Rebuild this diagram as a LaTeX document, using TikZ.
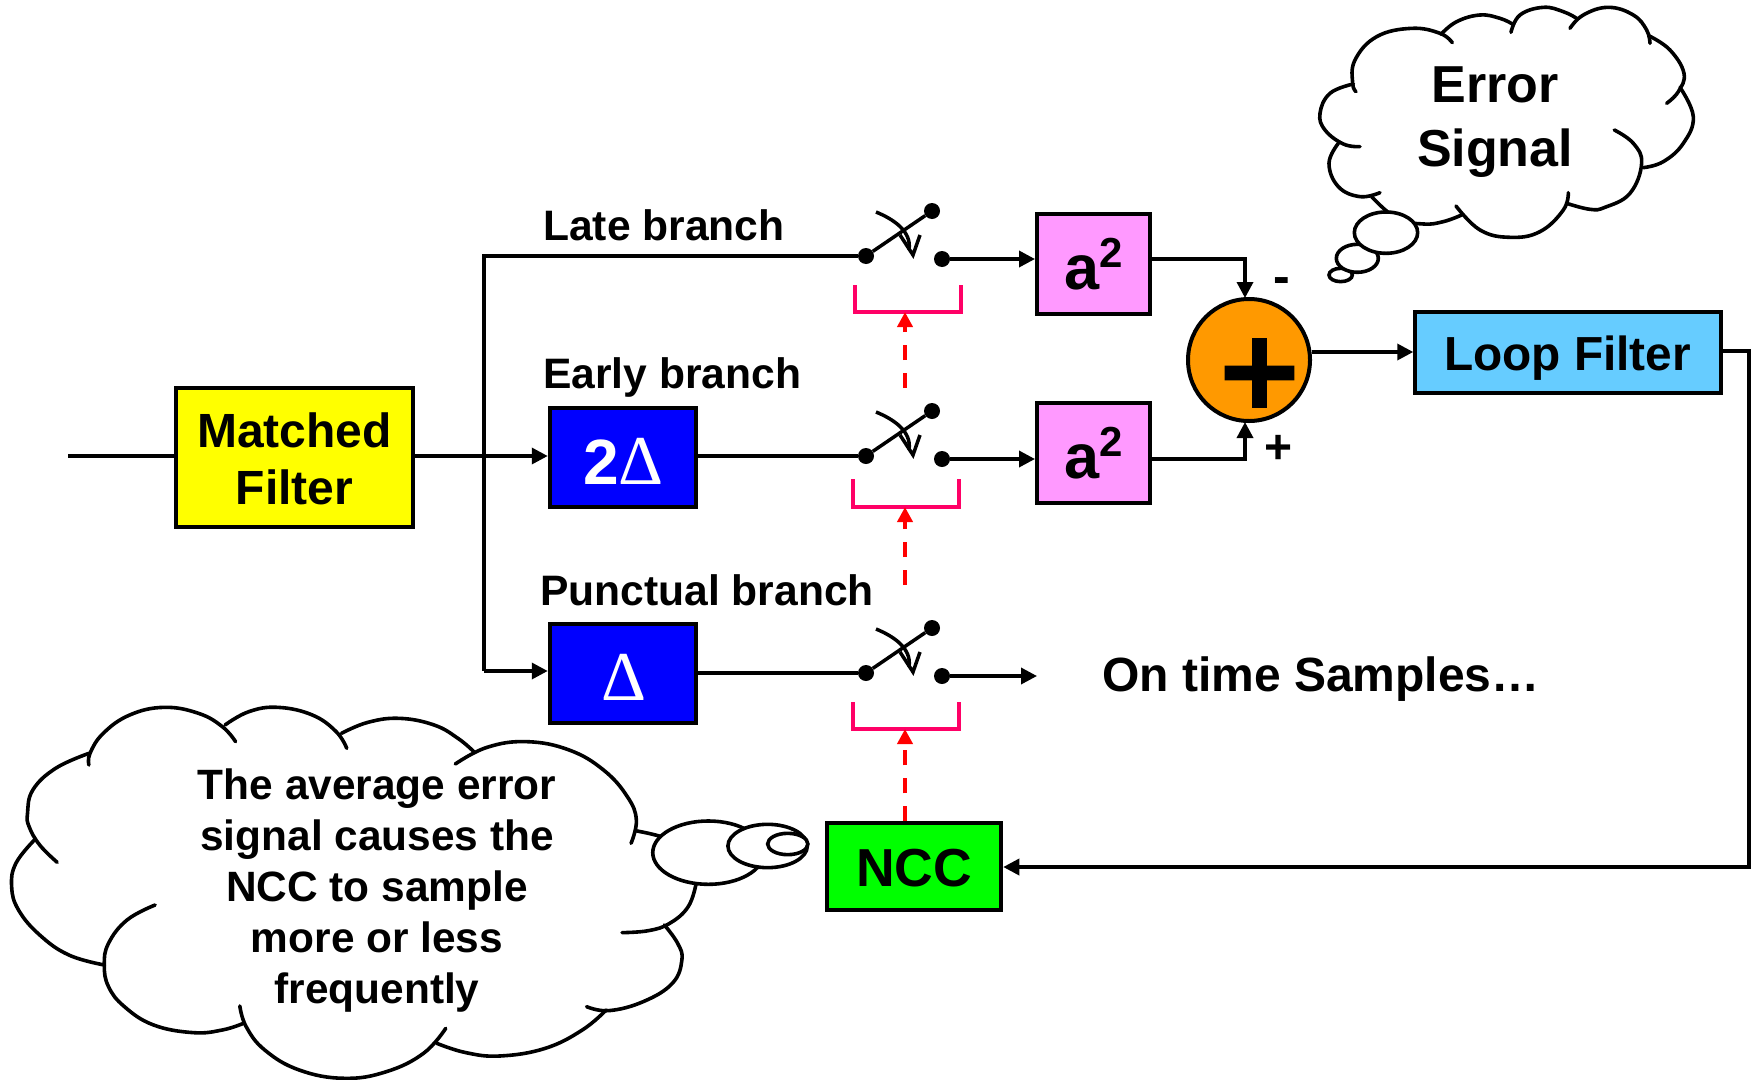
\documentclass[tikz,border=0pt]{standalone}
\usepackage{fontspec}
\setmainfont{Liberation Sans}
\newfontfamily\plusfont[BoldFeatures={FakeBold=2}]{DejaVu Sans}
\newfontfamily\deltafont{Liberation Serif}
\usetikzlibrary{arrows.meta,calc}
\newcommand{\fsz}[2]{\fontsize{#1}{#2}\selectfont}
\definecolor{brcol}{HTML}{FF0066}
\definecolor{pinkb}{HTML}{FF99FF}
\definecolor{orangeb}{HTML}{FF9900}
\definecolor{skyb}{HTML}{66CCFF}
\definecolor{yellowb}{HTML}{FFFF00}
\definecolor{blueb}{HTML}{0000FF}
\definecolor{greenb}{HTML}{00FF00}
\definecolor{redb}{HTML}{FF0000}
\tikzset{
  blk/.style={draw=black,line width=4pt,inner sep=0pt,align=center,font=\bfseries},
  wire/.style={draw=black,line width=3.5pt},
  arr/.style={wire,-{Triangle[length=16pt,width=16pt]}},
  redarr/.style={draw=redb,line width=4pt,dash pattern=on 15pt off 13pt,-{Triangle[length=15pt,width=15pt]}},
  brk/.style={draw=brcol,line width=4pt},
  dot/.style={circle,fill=black,inner sep=0pt,minimum size=16pt},
  lab/.style={inner sep=0pt,font=\bfseries\fsz{42.6}{51},anchor=west},
  cl/.style={draw=black,line width=3.6pt,line cap=round},
  bub/.style={draw=black,fill=white,line width=3.6pt},
  swarc/.style={draw=black,line width=3.5pt},
  txt/.style={inner sep=0pt,align=center,font=\bfseries},
}
\begin{document}
\begin{tikzpicture}[x=1pt,y=-1pt]
\useasboundingbox (0,0) rectangle (1755,1079);

% boxes
\node[blk,fill=yellowb,minimum width=236.5pt,minimum height=138.5pt] (mf) at (294.5,457.5) {};
\node[txt,font=\bfseries\fsz{48}{57}] (mft) at (294.5,459) {Matched\\Filter};
\node[blk,fill=blueb,minimum width=146.5pt,minimum height=99.5pt] (d2) at (623,457.5) {};
\node[txt,text=white] (d2t) at (623.5,461) {\fsz{64}{64}2{\deltafont\mdseries\fsz{70}{64}Δ}};
\node[blk,fill=blueb,minimum width=146.5pt,minimum height=99.5pt] (d1) at (623,673.5) {};
\node[txt,text=white] (d1t) at (623.5,677) {\fsz{70}{64}{\deltafont\mdseries Δ}};
\node[blk,fill=pinkb,minimum width=113pt,minimum height=99.5pt] (a1) at (1093.5,264) {\fsz{63}{63}a\raisebox{0.36em}{\fsz{42}{42}2}};
\node[blk,fill=pinkb,minimum width=113pt,minimum height=99.5pt] (a2) at (1093.5,453) {\fsz{63}{63}a\raisebox{0.36em}{\fsz{42}{42}2}};
\node[blk,fill=orangeb,circle,minimum size=122pt,line width=4pt] (sum) at (1249,360) {};
\node[txt,font=\plusfont\bfseries\fsz{108}{108}] (plus) at (1259.5,373) {+};
\node[blk,fill=skyb,minimum width=305.5pt,minimum height=80.5pt] (lf) at (1568,352.5) {};
\node[txt,font=\bfseries\fsz{47.8}{57}] (lft) at (1567.5,358) {Loop Filter};
\node[blk,fill=greenb,minimum width=174.5pt,minimum height=86.5pt] (ncc) at (914,866.5) {};
\node[txt,font=\bfseries\fsz{53.5}{60}] (ncct) at (914,868) {NCC};

% switch terminals
\node[dot] (s1l) at (866,256) {};
\node[dot] (s1t) at (932,211) {};
\node[dot] (s1r) at (942,259) {};
\node[dot] (s2l) at (866,456) {};
\node[dot] (s2t) at (932,411) {};
\node[dot] (s2r) at (942,459) {};
\node[dot] (s3l) at (866,673) {};
\node[dot] (s3t) at (932,628) {};
\node[dot] (s3r) at (942,676) {};

% switch blades and arcs
\foreach \n/\dy in {1/0,2/200,3/417}{
  \draw[wire] (s\n l) -- (s\n t);
  \draw[swarc] (876,212+\dy) .. controls (893,219+\dy) and (912,231+\dy) .. (909,250+\dy);
  \draw[swarc,line join=miter] (900,235+\dy) -- (913,255+\dy) -- (920,235+\dy);
}

% signal wires
\coordinate (inp) at (68,456);
\coordinate (trT) at (484,256);
\coordinate (trB) at (484,671);
\coordinate (trM) at (484,456);
\coordinate (sumN) at (1245,298);
\coordinate (sumS) at (1245,422);
\coordinate (otEnd) at (1037,676);
\coordinate (lfOut) at (1749,351);
\coordinate (lfDown) at (1749,867);
\draw[wire] (inp) -- (mf.west |- inp);
\draw[arr] (mf.east |- trM) -- (d2.west |- trM);
\draw[wire,line join=miter] (s1l) -- (trT) -- (trB);
\draw[arr] (trB) -- (d1.west |- trB);
\draw[wire] (d2.east |- s2l) -- (s2l);
\draw[wire] (d1.east |- s3l) -- (s3l);
\draw[arr] (s1r) -- (a1.west |- s1r);
\draw[arr] (s2r) -- (a2.west |- s2r);
\draw[arr] (s3r) -- (otEnd);
\draw[arr] (a1.east |- s1r) -| (sumN);
\draw[arr] (a2.east |- s2r) -| (sumS);
\draw[arr] (sum.east |- 0,352) -- (lf.west |- 0,352);
\draw[arr] (lf.east |- lfOut) -- (lfOut) -- (lfDown) -- (ncc.east |- lfDown);

% brackets
\coordinate (b1a) at (855,285); \coordinate (b1b) at (961,285);
\coordinate (b2a) at (853,479); \coordinate (b2b) at (959,479);
\coordinate (b3a) at (853,702); \coordinate (b3b) at (959,702);
\coordinate (b1m) at (905,312);
\coordinate (b2m) at (905,507);
\coordinate (b3m) at (905,729);
\draw[brk] (b1a) -- (855,312) -- (961,312) -- (b1b);
\draw[brk] (b2a) -- (853,507) -- (959,507) -- (b2b);
\draw[brk] (b3a) -- (853,729) -- (959,729) -- (b3b);
\coordinate (r1s) at (905,388);
\coordinate (r2s) at (905,585);
\draw[redarr] (r1s) -- (b1m);
\draw[redarr] (r2s) -- (b2m);
\draw[redarr] (ncc.north -| b3m) -- (b3m);

% labels
\node[lab] (tl) at (543,225) {Late branch};
\node[lab] (te) at (543,377) {Early branch};
\node[lab] (tp) at (540,590) {Punctual branch};
\node[lab,font=\bfseries\fsz{48}{50}] (to) at (1102,679) {On time Samples…};
\node[txt,font=\bfseries\fsz{50}{50}] (mi) at (1282,286) {-};
\node[txt,font=\bfseries\fsz{48}{50}] (pl) at (1278,449) {+};

% Error Signal cloud
\begin{scope}[shift={(1280pt,0pt)},x=0.3333pt,y=-0.3333pt]
\draw[cl] plot[smooth,tension=.7] coordinates {(228,275)(218,250)(225,180)(290,110)(395,85)(480,100)(517,128)};
\draw[cl] plot[smooth,tension=.7] coordinates {(483,103)(530,65)(600,45)(660,55)(697,72)};
\draw[cl] plot[smooth,tension=.7] coordinates {(693,97)(720,45)(790,22)(850,35)(890,55)};
\draw[cl] plot[smooth,tension=.7] coordinates {(870,85)(910,45)(985,22)(1060,45)(1100,90)(1110,130)};
\draw[cl] plot[smooth,tension=.7] coordinates {(1108,108)(1170,150)(1212,220)(1195,275)(1160,310)};
\draw[cl] plot[smooth,tension=.7] coordinates {(1200,262)(1240,350)(1210,430)(1150,485)(1090,503)};
\draw[cl] plot[smooth,tension=.7] coordinates {(1003,390)(1060,430)(1085,490)(1050,580)(975,622)(930,628)(860,610)};
\draw[cl] plot[smooth,tension=.7] coordinates {(865,578)(850,630)(780,695)(690,712)(600,690)(528,618)};
\draw[cl] plot[smooth,tension=.7] coordinates {(545,645)(490,665)(430,672)(350,655)(275,590)};
\draw[cl] plot[smooth,tension=.7] coordinates {(300,578)(240,590)(175,560)(147,490)(175,430)};
\draw[cl] plot[smooth,tension=.7] coordinates {(240,440)(190,432)(135,390)(120,340)(150,280)(220,252)};
\draw[bub] (182,825) ellipse [x radius=35,y radius=20];
\draw[bub] (232,775) ellipse [x radius=63,y radius=42];
\draw[bub] (318,698) ellipse [x radius=95,y radius=62];
\end{scope}
\node[txt,font=\bfseries\fsz{52}{64}] (es) at (1495,122.5) {Error\\Signal};

% NCC cloud
\begin{scope}[shift={(0pt,-690pt)},x=0.5294pt,y=-0.3333pt]
\draw[cl] plot[smooth,tension=.7] coordinates {(168,225)(170,190)(195,130)(245,75)(310,52)(375,70)(420,110)(445,155)};
\draw[cl] plot[smooth,tension=.7] coordinates {(425,105)(470,65)(525,52)(590,75)(635,125)(655,175)};
\draw[cl] plot[smooth,tension=.7] coordinates {(645,130)(695,97)(755,85)(820,105)(865,145)(895,185)};
\draw[cl] plot[smooth,tension=.7] coordinates {(860,222)(920,172)(995,155)(1075,180)(1140,240)(1185,320)(1202,390)(1192,460)};
\draw[cl] plot[smooth,tension=.7] coordinates {(1200,422)(1225,430)(1250,440)};
\draw[cl] plot[smooth,tension=.7] coordinates {(1315,580)(1300,650)(1265,700)(1225,722)(1175,728)};
\draw[cl] plot[smooth,tension=.7] coordinates {(1255,705)(1280,760)(1288,810)(1270,880)(1215,935)(1150,962)(1108,950)};
\draw[cl] plot[smooth,tension=.7] coordinates {(1145,960)(1100,1020)(1030,1075)(945,1098)(880,1088)(825,1060)};
\draw[cl] plot[smooth,tension=.7] coordinates {(842,1015)(800,1090)(730,1145)(650,1165)(565,1140)(500,1080)(465,1010)(453,948)};
\draw[cl] plot[smooth,tension=.7] coordinates {(460,1000)(420,1020)(365,1028)(290,1005)(235,950)(205,890)(197,825)(205,760)(240,690)(293,645)};
\draw[cl] plot[smooth,tension=.7] coordinates {(197,825)(130,795)(75,735)(35,660)(22,590)(30,520)(65,450)};
\draw[cl] plot[smooth,tension=.7] coordinates {(108,517)(75,465)(55,410)(52,370)(62,300)(105,235)(168,190)};
\draw[bub] (1338,488) ellipse [x radius=105,y radius=95];
\draw[bub] (1450,468) ellipse [x radius=75,y radius=65];
\draw[bub] (1488,462) ellipse [x radius=38,y radius=32];
\end{scope}
\node[txt,font=\bfseries\fsz{42.4}{51}] (ct) at (377,891) {The average error\\signal causes the\\NCC to sample\\more or less\\frequently};
\end{tikzpicture}
\end{document}
